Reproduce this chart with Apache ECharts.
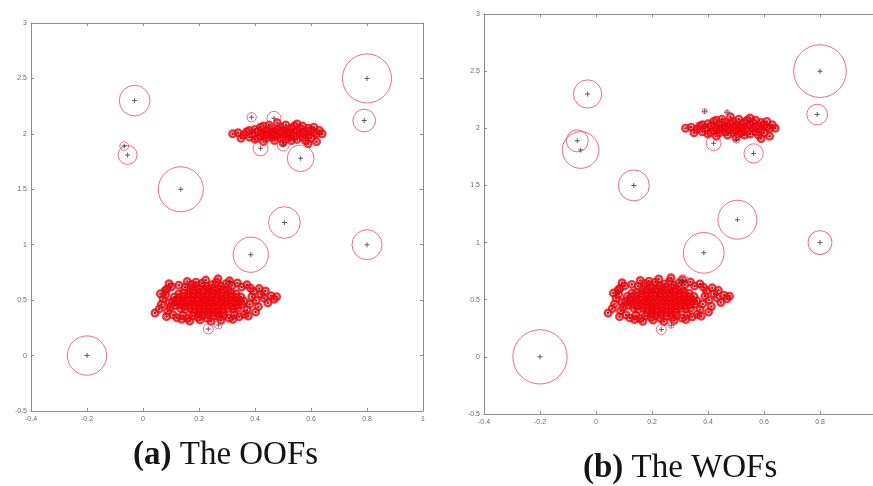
<!DOCTYPE html>
<html>
<head>
<meta charset="utf-8">
<script src="https://cdn.jsdelivr.net/npm/echarts@6/dist/echarts.min.js"></script>
<style>
  html, body { margin: 0; padding: 0; background: #fff; }
  #chart { width: 873px; height: 486px; }
</style>
</head>
<body>
<div id="chart"></div>
<script>
// Axis ticks shared by both panels
const xTicks = [-0.4, -0.2, 0, 0.2, 0.4, 0.6, 0.8, 1];
const yTicks = [-0.5, 0, 0.5, 1, 1.5, 2, 2.5, 3];

// Isolated points (outlier candidates)
const outlierX = [-0.2, 0.135, -0.03, -0.055, -0.067, 0.385, 0.505, 0.563, 0.42, 0.388, 0.8, 0.79, 0.8, 0.233, 0.269, 0.468, 0.501, 0.31];
const outlierY = [0, 1.5, 2.3, 1.81, 1.89, 0.91, 1.2, 1.78, 1.87, 2.15, 2.5, 2.12, 1.0, 0.24, 0.276, 2.14, 1.90, 0.666];

// Outlier factors per point (circle size), panel (a) OOF and panel (b) WOF
const oofScore = [3.93, 4.5, 3.07, 1.9, 0.87, 3.53, 3.17, 2.67, 1.5, 0.93, 4.9, 2.27, 3.0, 1.0, 0.8, 1.4, 1.2, 0.5];
const wofScore = [5.43, 3.1, 2.83, 3.67, 2.2, 4.07, 3.9, 1.93, 1.5, 0.5, 5.27, 2.07, 2.37, 1.0, 0.6, 0.5, 0.7, 1.2];

// Dense cluster around (0.24, 0.5)
const lowerCluster = [
  [0.182,0.388],[0.199,0.381],[0.216,0.392],[0.233,0.379],[0.250,0.390],[0.267,0.383],[0.284,0.389],
  [0.135,0.424],[0.152,0.415],[0.169,0.427],[0.186,0.418],[0.203,0.425],[0.220,0.414],[0.237,0.423],[0.254,0.417],[0.271,0.426],[0.288,0.416],[0.305,0.424],[0.322,0.419],[0.338,0.427],
  [0.114,0.452],[0.131,0.461],[0.148,0.449],[0.165,0.458],[0.182,0.451],[0.199,0.462],[0.216,0.450],[0.233,0.457],[0.250,0.447],[0.267,0.460],[0.284,0.452],[0.301,0.459],[0.318,0.449],[0.335,0.456],[0.352,0.461],
  [0.106,0.487],[0.123,0.494],[0.140,0.485],[0.157,0.496],[0.174,0.488],[0.191,0.493],[0.208,0.484],[0.225,0.497],[0.242,0.489],[0.259,0.495],[0.276,0.486],[0.293,0.492],[0.310,0.498],[0.327,0.487],[0.344,0.494],[0.361,0.489],
  [0.112,0.529],[0.129,0.520],[0.146,0.531],[0.163,0.522],[0.180,0.528],[0.197,0.519],[0.214,0.530],[0.231,0.523],[0.248,0.527],[0.265,0.518],[0.282,0.532],[0.299,0.521],[0.316,0.529],[0.333,0.524],[0.350,0.528],
  [0.128,0.556],[0.145,0.564],[0.162,0.553],[0.179,0.562],[0.196,0.557],[0.213,0.565],[0.230,0.554],[0.247,0.561],[0.264,0.558],[0.281,0.566],[0.298,0.552],[0.315,0.563],[0.332,0.557],
  [0.168,0.598],[0.185,0.591],[0.202,0.601],[0.219,0.593],[0.236,0.599],[0.253,0.590],[0.270,0.602],[0.287,0.594],[0.304,0.597],
  [0.102,0.621],[0.128,0.634],[0.151,0.617],[0.174,0.641],[0.193,0.628],[0.211,0.652],[0.228,0.624],[0.246,0.638],[0.262,0.661],[0.279,0.626],[0.296,0.647],[0.318,0.631],[0.337,0.655],[0.352,0.619],[0.371,0.638],[0.158,0.668],[0.224,0.681],[0.268,0.692],[0.309,0.674],[0.189,0.662],[0.093,0.648],
  [0.084,0.352],[0.107,0.368],[0.121,0.341],[0.142,0.362],[0.158,0.335],[0.176,0.358],[0.196,0.344],[0.214,0.361],[0.231,0.336],[0.252,0.357],[0.271,0.347],[0.289,0.362],[0.307,0.339],[0.326,0.366],[0.344,0.351],[0.362,0.372],[0.167,0.311],[0.204,0.322],[0.243,0.309],[0.279,0.318],[0.321,0.326],[0.138,0.327],
  [0.043,0.384],[0.058,0.421],[0.066,0.463],[0.072,0.512],[0.081,0.548],[0.088,0.402],[0.094,0.477],[0.079,0.586],[0.062,0.558],[0.097,0.436],[0.086,0.601],
  [0.372,0.414],[0.381,0.462],[0.389,0.531],[0.395,0.578],[0.404,0.497],[0.412,0.441],[0.421,0.553],[0.433,0.516],[0.446,0.476],[0.458,0.539],[0.477,0.531],[0.468,0.508],[0.384,0.608],[0.402,0.392],[0.437,0.582],[0.376,0.356],[0.415,0.604]
];

// Sparser cluster around (0.48, 2.0)
const upperCluster = [
  [0.32,2.00],[0.34,2.01],[0.36,1.99],[0.37,2.02],[0.38,1.97],[0.39,2.00],[0.40,2.04],[0.40,1.95],[0.41,2.02],[0.42,1.98],
  [0.42,2.06],[0.43,2.00],[0.43,1.93],[0.44,2.03],[0.44,1.96],[0.45,2.08],[0.45,2.00],[0.46,1.97],[0.46,2.05],[0.47,2.02],
  [0.47,1.94],[0.48,2.10],[0.48,1.99],[0.49,2.06],[0.49,1.96],[0.50,2.03],[0.50,1.92],[0.51,2.00],[0.51,2.08],[0.52,1.97],
  [0.52,2.04],[0.53,2.01],[0.53,1.94],[0.54,2.07],[0.54,1.98],[0.55,2.03],[0.55,1.95],[0.56,2.05],[0.56,2.00],[0.57,1.97],
  [0.57,2.07],[0.58,2.02],[0.58,1.94],[0.59,2.05],[0.59,1.99],[0.60,2.03],[0.60,1.96],[0.61,2.06],[0.62,2.00],[0.62,1.93],
  [0.63,2.03],[0.64,2.00],[0.46,2.01],[0.48,2.04],[0.50,1.98],[0.52,2.01],[0.44,1.99],[0.47,1.99],[0.53,2.05],[0.41,1.96],
  [0.38,2.03],[0.35,1.96],[0.57,2.01],[0.49,2.01],[0.51,1.95],[0.55,2.09],[0.43,2.07],[0.59,1.91],[0.61,2.01]
];

const SCORE_TO_PX = 10;
const PLUS = 'path://M4,0H6V4H10V6H6V10H4V6H0V4H4Z';
const clusterPts = lowerCluster.concat(upperCluster);

// panel (b) runs past the right edge of the canvas, as in the printed figure
const grids = [
  { left: 31, top: 23, width: 392, height: 388, outerBoundsMode: 'none', containLabel: false },
  { left: 484, top: 14, width: 392, height: 400, outerBoundsMode: 'none', containLabel: false }
];

const fmt = v => String(Math.round(v * 10) / 10);
const labelStyle = { fontFamily: 'Liberation Sans', fontSize: 7, color: '#6a6a6a' };
const lineStyle = { color: '#8c8c8c', width: 1 };

const xAxes = [], yAxes = [], series = [];
grids.forEach((g, i) => {
  ['bottom', 'top'].forEach(pos => xAxes.push({
    type: 'value', gridIndex: i, position: pos,
    min: xTicks[0], max: xTicks[xTicks.length - 1], interval: 0.2,
    axisLine: { show: true, onZero: false, lineStyle },
    axisTick: { show: true, inside: true, length: 3, lineStyle },
    axisLabel: { show: pos === 'bottom', margin: 5, formatter: fmt, ...labelStyle },
    splitLine: { show: false }
  }));
  ['left', 'right'].forEach(pos => yAxes.push({
    type: 'value', gridIndex: i, position: pos,
    min: yTicks[0], max: yTicks[yTicks.length - 1], interval: 0.5,
    axisLine: { show: true, onZero: false, lineStyle },
    axisTick: { show: true, inside: true, length: 3, lineStyle },
    axisLabel: { show: pos === 'left', margin: 4, formatter: fmt, ...labelStyle },
    splitLine: { show: false }
  }));

  const scores = i === 0 ? oofScore : wofScore;
  const axisRef = { xAxisIndex: i * 2, yAxisIndex: i * 2 };

  // dark data dots of the clusters
  series.push({
    type: 'scatter', ...axisRef, silent: true, z: 2,
    symbol: 'circle', symbolSize: 2.6,
    itemStyle: { color: '#1a0505' },
    data: clusterPts
  });
  // small red factor circles of cluster points (thick rings merge in dense areas)
  series.push({
    type: 'scatter', ...axisRef, silent: true, z: 3,
    symbol: 'circle', symbolSize: 6.6,
    itemStyle: { color: 'rgba(240,60,70,0.18)', borderColor: '#f0000a', borderWidth: 2.4 },
    data: clusterPts
  });
  // outlier factor circles
  series.push({
    type: 'scatter', ...axisRef, silent: true, z: 4,
    symbol: 'circle',
    symbolSize: v => v[2] * SCORE_TO_PX,
    itemStyle: { color: 'rgba(0,0,0,0)', borderColor: '#e34a64', borderWidth: 1 },
    data: outlierX.map((x, k) => [x, outlierY[k], scores[k]])
  });
  // point markers
  series.push({
    type: 'scatter', ...axisRef, silent: true, z: 5,
    symbol: PLUS, symbolSize: 5,
    itemStyle: { color: '#333' },
    data: outlierX.map((x, k) => [x, outlierY[k]])
  });
});

const captionStyle = {
  fontFamily: 'Liberation Serif', fontSize: 33, fontWeight: 'normal', color: '#151515',
  rich: { b: { fontFamily: 'Liberation Serif', fontSize: 33, fontWeight: 'bold', color: '#151515' } }
};

const chart = echarts.init(document.getElementById('chart'), null, { renderer: 'canvas' });
chart.setOption({
  animation: false,
  backgroundColor: '#ffffff',
  title: [
    { text: '{b|(a)} The OOFs', left: 133, top: 439, padding: 0, textStyle: captionStyle },
    { text: '{b|(b)} The WOFs', left: 583, top: 452, padding: 0, textStyle: captionStyle }
  ],
  grid: grids,
  xAxis: xAxes,
  yAxis: yAxes,
  series
});
</script>
</body>
</html>
